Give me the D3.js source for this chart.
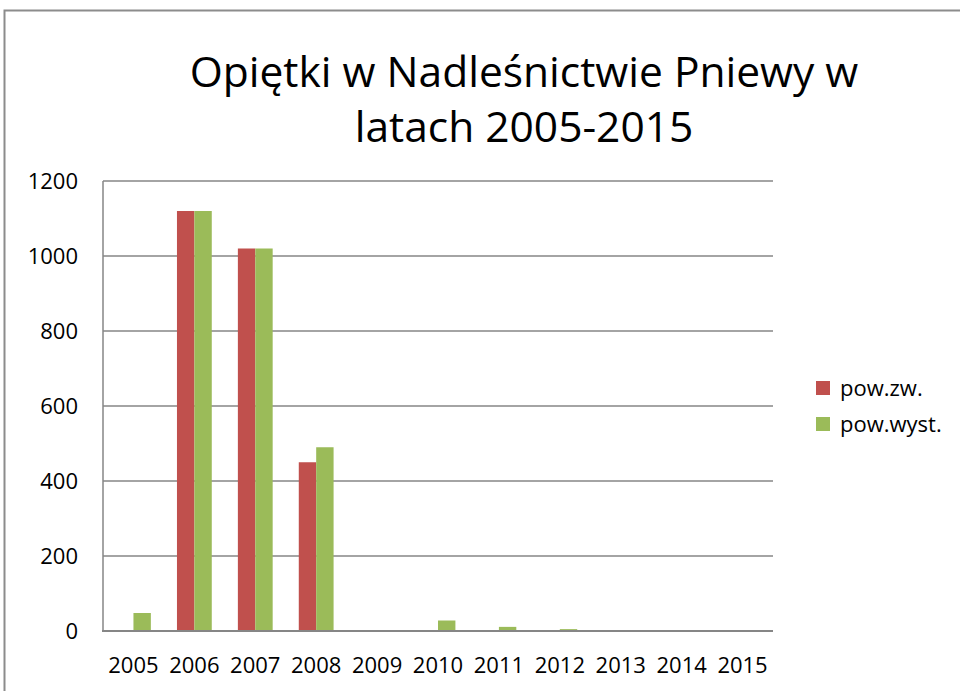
<!DOCTYPE html>
<html>
<head>
<meta charset="utf-8">
<script src="https://cdn.jsdelivr.net/npm/d3@7"></script>
<style>
  body { margin: 0; background: #fff; }
  svg { display: block; }
</style>
</head>
<body>
<div id="chart"></div>
<script>
// chart data
const years = ["2005", "2006", "2007", "2008", "2009", "2010", "2011", "2012", "2013", "2014", "2015"];
const powZw = [0, 1120, 1020, 450, 0, 0, 0, 0, 0, 0, 0];
const powWyst = [48, 1120, 1020, 490, 0, 28, 11, 5, 0, 0, 0];
const yTicks = [0, 200, 400, 600, 800, 1000, 1200];
const seriesNames = ["pow.zw.", "pow.wyst."];
const titleLines = ["Opiętki w Nadleśnictwie Pniewy w", "latach 2005-2015"];

const WIDTH = 960, HEIGHT = 691;
const FONT = "'Open Sans', 'DejaVu Sans', sans-serif";
const COLORS = ["#C0504D", "#9BBB59"];
const GRID = "#868686";
const PLOT = {left: 103, right: 773, top: 181, bottom: 631};

let svg = d3.select("#chart")
    .append("svg")
    .attr("width", WIDTH)
    .attr("height", HEIGHT);

// outer chart border
svg.append("rect")
    .attr("x", 4.5)
    .attr("y", 10.5)
    .attr("width", WIDTH + 20)
    .attr("height", HEIGHT + 20)
    .attr("fill", "none")
    .attr("stroke", "#8c8c8c")
    .attr("stroke-width", 2);

// title
titleLines.forEach(function (line, i) {
    svg.append("text")
        .attr("x", 524)
        .attr("y", 87 + i * 55)
        .style("text-anchor", "middle")
        .style("font-family", FONT)
        .style("font-size", "42.5px")
        .style("fill", "#000")
        .text(line);
});

let x = d3.scaleBand()
    .domain(years)
    .range([PLOT.left, PLOT.right]);

let x1 = d3.scaleBand()
    .domain([0, 1])
    .range([0, x.bandwidth()])
    .paddingOuter(0.75)
    .paddingInner(0);

let y = d3.scaleLinear()
    .domain([0, 1200])
    .range([PLOT.bottom, PLOT.top]);

// gridlines
svg.append("g")
    .selectAll("line")
    .data(yTicks.filter(d => d > 0))
    .enter()
    .append("line")
    .attr("x1", PLOT.left)
    .attr("x2", PLOT.right)
    .attr("y1", d => y(d))
    .attr("y2", d => y(d))
    .attr("stroke", GRID)
    .attr("stroke-width", 1.5);

// y tick labels
svg.append("g")
    .selectAll("text")
    .data(yTicks)
    .enter()
    .append("text")
    .attr("x", 78)
    .attr("y", d => y(d))
    .attr("dy", "0.36em")
    .style("text-anchor", "end")
    .style("font-family", FONT)
    .style("font-size", "22px")
    .text(d => d);

// bars
let series = [powZw, powWyst];
series.forEach(function (values, i) {
    svg.append("g")
        .selectAll("rect")
        .data(years.map((yr, j) => ({year: yr, value: values[j]})))
        .enter()
        .append("rect")
        .attr("x", d => x(d.year) + x1(i))
        .attr("y", d => y(d.value))
        .attr("width", x1.bandwidth())
        .attr("height", d => y(0) - y(d.value))
        .attr("fill", COLORS[i]);
});

// axes lines
svg.append("line")
    .attr("x1", PLOT.left)
    .attr("x2", PLOT.left)
    .attr("y1", PLOT.top)
    .attr("y2", PLOT.bottom)
    .attr("stroke", GRID)
    .attr("stroke-width", 1.5);
svg.append("line")
    .attr("x1", PLOT.left - 1)
    .attr("x2", PLOT.right)
    .attr("y1", PLOT.bottom)
    .attr("y2", PLOT.bottom)
    .attr("stroke", GRID)
    .attr("stroke-width", 2);

// x labels
svg.append("g")
    .selectAll("text")
    .data(years)
    .enter()
    .append("text")
    .attr("x", d => x(d) + x.bandwidth() / 2)
    .attr("y", 673)
    .style("text-anchor", "middle")
    .style("font-family", FONT)
    .style("font-size", "22px")
    .text(d => d);

// legend
let legend = svg.append("g")
    .selectAll("g")
    .data(seriesNames)
    .enter()
    .append("g")
    .attr("transform", (d, i) => "translate(816," + (381 + i * 36) + ")");
legend.append("rect")
    .attr("width", 14)
    .attr("height", 14)
    .attr("fill", (d, i) => COLORS[i]);
legend.append("text")
    .attr("x", 24)
    .attr("y", 7)
    .attr("dy", "0.36em")
    .style("font-family", FONT)
    .style("font-size", "22px")
    .text(d => d);
</script>
</body>
</html>
